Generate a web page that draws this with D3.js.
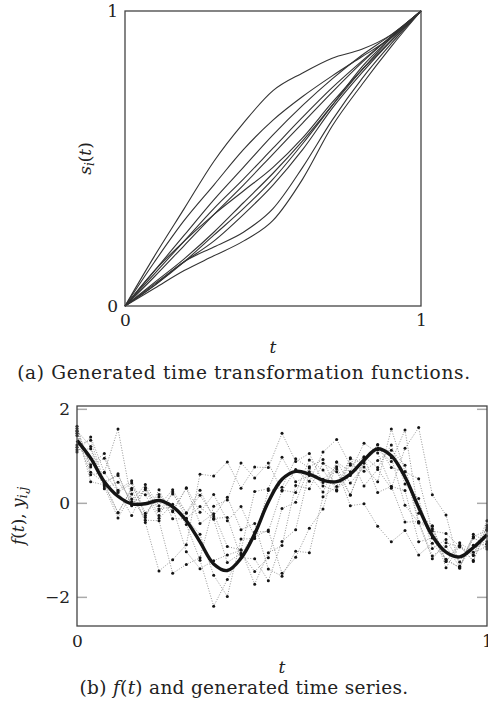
<!DOCTYPE html>
<meta charset="UTF-8">
<style>
    body { margin: 0; background: #fff; }
    text { font-family: "DejaVu Serif", serif; fill: #222; }
    .warp { fill: none; stroke: #333; stroke-width: 1.1px; }
    .frame { fill: none; stroke: #444; stroke-width: 1.3px; }
    .ts { fill: none; stroke: #8a8a8a; stroke-width: 0.9px; stroke-dasharray: 1 1.6; }
    .f { fill: none; stroke: #141414; stroke-width: 3.4px; stroke-linejoin: round; }
</style>
<body>
<script src="https://d3js.org/d3.v7.min.js"></script>
<script>

// (a) time transformation functions s_i(t), read at t = 0, 0.1, ..., 1
var warpT = [0, .1, .2, .3, .4, .5, .6, .7, .8, .9, 1];
var warps = [
    [0, .17, .33, .49, .62, .73, .79, .84, .87, .92, 1],
    [0, .15, .29, .41, .53, .63, .71, .78, .845, .91, 1],
    [0, .12, .24, .36, .47, .58, .68, .77, .85, .92, 1],
    [0, .11, .22, .33, .43, .535, .64, .74, .83, .915, 1],
    [0, .1, .205, .31, .41, .515, .62, .725, .825, .915, 1],
    [0, .12, .22, .31, .39, .47, .57, .69, .8, .9, 1],
    [0, .08, .16, .25, .35, .45, .56, .68, .8, .91, 1],
    [0, .07, .15, .24, .33, .43, .55, .68, .81, .91, 1],
    [0, .075, .15, .22, .31, .41, .53, .67, .79, .9, 1],
    [0, .07, .15, .2, .25, .33, .47, .63, .77, .89, 1],
    [0, .06, .12, .17, .22, .29, .43, .61, .75, .88, 1]
];

// (b) f(t) and the generated series y_ij, sampled at t = j/30
var sampleT = d3.range(31).map(function(j) { return j / 30; });
var fValues = [1.33, .95, .45, .14, -.02, -.02, .05, -.08, -.38, -.83, -1.3, -1.44, -1.18, -.66, .02,
    .5, .67, .61, .48, .45, .61, .91, 1.15, 1.0, .55, -.1, -.7, -1.05, -1.15, -.95, -.68];

var seriesA = [1.53, .45, .38, -.21, .31, -.42, -1.45, -1.21, -.89, .61, .57, .87, .31, .76, .75, 1.48, .88, 1.05, .43, .72, -.06, -.02, -.5, -.83, -.59, -1.11, -.86, -1.21, -1.37, -.75, -.88];
var seriesB = [1.18, .95, .34, -.32, .19, -.37, -.38, -1.5, -1.31, -1.17, -.07, .06, .85, .53, .85, .25, .71, .46, 1.08, 1.35, .8, .97, .22, .35, -.41, -.4, -1.13, -.93, -1.36, -.72, -.58];
var seriesC = [1.43, .6, .64, .24, -.27, .32, -.13, -.09, -1.04, -1.4, -1.23, -1.11, -1.01, .24, .3, .97, .45, .58, .23, .87, .66, 1.27, 1.06, .35, .26, -.83, -.75, -1.2, -1.39, -.67, -.83];
var seriesD = [1.13, 1.15, .3, .44, .08, -.31, .28, -.34, -.34, -.67, -1.54, -1.99, -.77, -.76, .26, .33, .94, .74, .36, .25, .94, .84, 1.24, .96, -.05, -.42, -1.19, -.85, -.94, -1.11, -.38];
var seriesE = [1.63, .65, .43, -.21, .28, .17, -.33, -.03, -.46, -1.22, -2.2, -1.63, -1.11, -.62, -.61, .27, .22, .91, .7, .27, .83, .67, .9, 1.12, .8, -.4, -.5, -1.25, -.85, -1.05, -.93];
var seriesF = [1.23, 1.33, .45, .58, -.04, .28, -.27, .23, -.33, -.08, -.35, -1.27, -1.07, -1.46, -1.17, -.12, .01, .77, .92, .28, .58, .98, .75, 1.23, .4, .09, -.97, -.78, -1.26, -.72, -.98];
var seriesG = [1.58, .76, .95, .27, .47, -.22, .13, -.19, .31, -.44, -.23, -.93, -1.0, -1.73, -1.06, -.91, .37, .3, .84, .66, .17, .93, 1.23, .75, .66, -.43, -.55, -1.38, -.91, -1.12, -.53];
var seriesH = [1.53, 1.2, .4, .62, -.06, .32, -.17, .19, -.21, .27, -.33, -.31, -1.17, -1.19, -1.66, -.82, -.57, .66, .5, .77, .16, .89, 1.13, .88, 1.55, -.22, -.49, -1.25, -.9, -1.25, -.48];
var seriesI = [1.08, 1.4, .65, 1.57, .03, .39, -.06, .28, -.22, .16, -.28, .12, -.57, -.44, -1.41, -1.56, -1.03, -1.06, .13, .35, .96, .36, .71, .31, 1.16, 1.6, .17, -.26, -1.35, -.9, -.88];
var seriesJ = [1.48, .81, 1.05, .22, .42, -.27, .18, -.17, .32, -.2, .18, -.38, -.08, -.72, -.58, -1.5, -1.16, -.54, -.13, .87, .42, .76, .45, 1.57, .66, .51, -.6, -.65, -.93, -1.22, -.58];
var allSeries = [seriesA, seriesB, seriesC, seriesD, seriesE, seriesF, seriesG, seriesH, seriesI, seriesJ];

var svg = d3.select("body").append("svg")
    .attr("width", 488)
    .attr("height", 702);

// ---------- panel (a) ----------
var xa = d3.scaleLinear().domain([0, 1]).range([125, 421]);
var ya = d3.scaleLinear().domain([0, 1]).range([306, 11]);

var warpLine = d3.line()
    .x(function(d, i) { return xa(warpT[i]); })
    .y(function(d) { return ya(d); })
    .curve(d3.curveMonotoneX);

svg.append("g").selectAll("path")
    .data(warps)
    .enter().append("path")
    .attr("class", "warp")
    .attr("d", warpLine);

svg.append("rect").attr("class", "frame")
    .attr("x", xa(0)).attr("y", ya(1))
    .attr("width", xa(1) - xa(0)).attr("height", ya(0) - ya(1));

var axA = svg.append("g")
    .attr("transform", "translate(0," + ya(0) + ")")
    .call(d3.axisBottom(xa).tickValues([0, 1]).tickSize(0).tickPadding(8).tickFormat(d3.format("d")));
var ayA = svg.append("g")
    .attr("transform", "translate(" + xa(0) + ",0)")
    .call(d3.axisLeft(ya).tickValues([0, 1]).tickSize(0).tickPadding(7).tickFormat(d3.format("d")));
[axA, ayA].forEach(function(g) {
    g.select(".domain").remove();
    g.selectAll("text").style("font-size", "17px").style("font-family", "DejaVu Serif, serif").attr("fill", "#222");
});

svg.append("text")
    .attr("x", (xa(0) + xa(1)) / 2).attr("y", 353)
    .attr("text-anchor", "middle").style("font-size", "17px").style("font-style", "italic")
    .text("t");

var sLab = svg.append("text")
    .attr("transform", "translate(91," + (ya(0) + ya(1)) / 2 + ") rotate(-90)")
    .attr("text-anchor", "middle").style("font-size", "17px");
sLab.append("tspan").style("font-style", "italic").text("s");
sLab.append("tspan").style("font-style", "italic").style("font-size", "12px").attr("dy", 3).text("i");
sLab.append("tspan").attr("dy", -3).text("(");
sLab.append("tspan").style("font-style", "italic").text("t");
sLab.append("tspan").text(")");

svg.append("text")
    .attr("x", 244).attr("y", 379)
    .attr("text-anchor", "middle").style("font-size", "18.5px").style("letter-spacing", "0.7px")
    .text("(a) Generated time transformation functions.");

// ---------- panel (b) ----------
var xb = d3.scaleLinear().domain([0, 1]).range([77, 487]);
var yb = d3.scaleLinear().domain([-2.62, 2.06]).range([626, 406]);

var seriesLine = d3.line()
    .x(function(d, i) { return xb(sampleT[i]); })
    .y(function(d) { return yb(d); });

svg.append("g").selectAll("path")
    .data(allSeries)
    .enter().append("path")
    .attr("class", "ts")
    .attr("d", seriesLine);

svg.append("g").selectAll("g")
    .data(allSeries)
    .enter().append("g")
    .selectAll("circle")
    .data(function(d) { return d; })
    .enter().append("circle")
    .attr("cx", function(d, i) { return xb(sampleT[i]); })
    .attr("cy", function(d) { return yb(d); })
    .attr("r", 1.5)
    .attr("fill", "#151515");

svg.append("path")
    .datum(fValues)
    .attr("class", "f")
    .attr("d", d3.line()
        .x(function(d, i) { return xb(sampleT[i]); })
        .y(function(d) { return yb(d); })
        .curve(d3.curveCatmullRom));

// inner grey tick marks on both sides
var ayB = svg.append("g")
    .attr("transform", "translate(" + xb(0) + ",0)")
    .call(d3.axisLeft(yb).tickValues([-2, 0, 2]).tickSize(-10).tickPadding(7)
        .tickFormat(function(d) { return d < 0 ? "\u2212" + Math.abs(d) : d; }));
var ayB2 = svg.append("g")
    .attr("transform", "translate(" + xb(1) + ",0)")
    .call(d3.axisRight(yb).tickValues([-2, 0, 2]).tickSize(-10).tickFormat(""));
var axB = svg.append("g")
    .attr("transform", "translate(0," + yb(-2.62) + ")")
    .call(d3.axisBottom(xb).tickValues([0, 1]).tickSize(0).tickPadding(9).tickFormat(d3.format("d")));
[ayB, ayB2, axB].forEach(function(g) {
    g.select(".domain").remove();
    g.selectAll("line").attr("stroke", "#aaa").attr("stroke-width", 1.5);
    g.selectAll("text").style("font-size", "17px").style("font-family", "DejaVu Serif, serif").attr("fill", "#222");
});

svg.append("rect").attr("class", "frame")
    .attr("x", xb(0)).attr("y", yb(2.06))
    .attr("width", xb(1) - xb(0)).attr("height", yb(-2.62) - yb(2.06));

svg.append("text")
    .attr("x", (xb(0) + xb(1)) / 2).attr("y", 673)
    .attr("text-anchor", "middle").style("font-size", "17px").style("font-style", "italic")
    .text("t");

var fLab = svg.append("text")
    .attr("transform", "translate(24," + (yb(2.06) + yb(-2.62)) / 2 + ") rotate(-90)")
    .attr("text-anchor", "middle").style("font-size", "17px");
fLab.append("tspan").style("font-style", "italic").text("f");
fLab.append("tspan").text("(");
fLab.append("tspan").style("font-style", "italic").text("t");
fLab.append("tspan").text("), ");
fLab.append("tspan").style("font-style", "italic").text("y");
fLab.append("tspan").style("font-style", "italic").style("font-size", "12px").attr("dy", 3).text("i,j");

var cap = svg.append("text")
    .attr("x", 244).attr("y", 694)
    .attr("text-anchor", "middle").style("font-size", "18.5px").style("letter-spacing", "0.3px");
cap.append("tspan").text("(b) ");
cap.append("tspan").style("font-style", "italic").text("f");
cap.append("tspan").text("(");
cap.append("tspan").style("font-style", "italic").text("t");
cap.append("tspan").text(") and generated time series.");

</script>
</body>
